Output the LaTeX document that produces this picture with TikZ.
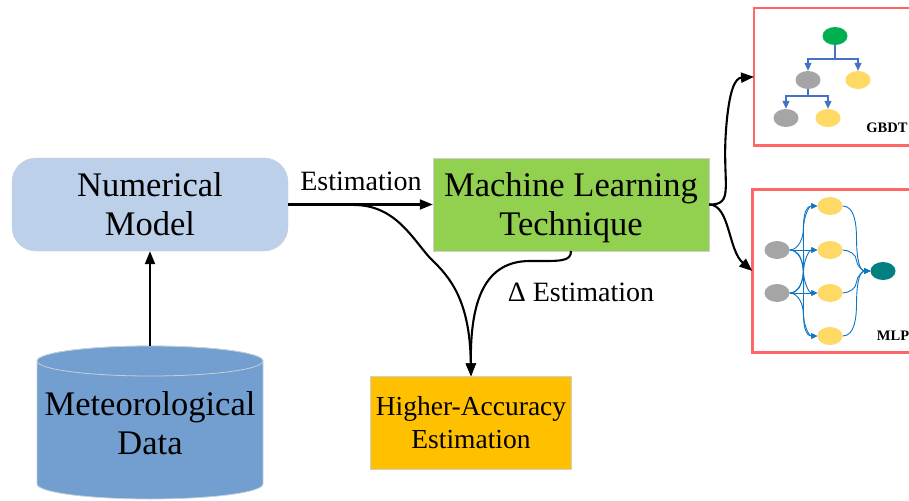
\documentclass[tikz,border=0pt]{standalone}
\usepackage{fontspec}
\setmainfont{Liberation Serif}
\usetikzlibrary{arrows.meta,shapes.geometric,calc}
\definecolor{numfill}{HTML}{BCD0E9}
\definecolor{numline}{HTML}{C6CFDB}
\definecolor{mlfill}{HTML}{92D050}
\definecolor{boxline}{HTML}{CFCFCF}
\definecolor{hafill}{HTML}{FFC000}
\definecolor{cylfill}{HTML}{729FCF}
\definecolor{cylline}{HTML}{C4CFDC}
\definecolor{panel}{HTML}{FF6666}
\definecolor{gn}{HTML}{00B050}
\definecolor{gy}{HTML}{A5A5A5}
\definecolor{yl}{HTML}{FFD966}
\definecolor{tl}{HTML}{008080}
\definecolor{treeblue}{HTML}{4472C4}
\definecolor{netblue}{HTML}{0F75C4}
\tikzset{
 flow/.style={black,line width=2.1pt,-{Triangle[length=13pt,width=10pt]}},
 panelbox/.style={draw=panel,line width=2.7pt,fill=white,minimum width=160pt,anchor=north west,inner sep=0pt,outer sep=0pt},
 dot/.style={ellipse,minimum width=25pt,minimum height=18pt,inner sep=0pt},
 gdot/.style={dot,fill=gy},
 ydot/.style={dot,fill=yl},
 treeline/.style={treeblue,line width=1.2pt},
 tree/.style={treeline,-{Triangle[length=8pt,width=7pt]}},
 net/.style={netblue,line width=0.9pt,-{Triangle[length=6pt,width=5.5pt]}},
 big/.style={font=\fontsize{34.5}{39}\selectfont,align=center},
 mid/.style={font=\fontsize{27.5}{33}\selectfont,align=center},
 lab/.style={font=\fontsize{28}{32}\selectfont},
 tag/.style={font=\fontsize{14.5}{16}\selectfont\bfseries},
}
\begin{document}
\begin{tikzpicture}[x=1pt,y=-1pt]
\useasboundingbox (0,0) rectangle (909,500);
\clip (0,0) rectangle (909,500);
% cylinder
\path[fill=cylfill,draw=cylline,line width=0.8pt] (37,361) arc[start angle=180,end angle=360,x radius=113,y radius=15] -- (263,484) arc[start angle=0,end angle=180,x radius=113,y radius=15] -- cycle;
\path[fill=cylfill,draw=cylline,line width=0.8pt] (150,361) ellipse[x radius=113,y radius=15];
\coordinate (cyltop) at (150,346);
\node[big,inner sep=0pt] (met) at (150,423) {Meteorological\\Data};
% main boxes
\node[draw=numline,fill=numfill,rounded corners=24pt,minimum width=276pt,minimum height=93pt,inner sep=0pt,big] (num) at (150,204.5) {Numerical\\Model};
\node[draw=boxline,fill=mlfill,minimum width=276pt,minimum height=93pt,inner sep=0pt,big] (ml) at (571,204.5) {\rule{0pt}{30pt}Machine Learning\\Technique};
\node[draw=boxline,fill=hafill,minimum width=201pt,minimum height=93pt,inner sep=0pt,mid] (ha) at (471,423) {Higher-Accuracy\\Estimation};
\node[lab,inner sep=0pt] (est) at (361,181) {Estimation};
\node[lab,inner sep=0pt] (dest) at (581,292) {Δ Estimation};
% panels
\node[panelbox,minimum height=137.7pt] (p1) at (754,8) {};
\node[panelbox,minimum height=163.4pt] (p2) at (752.3,189.3) {};
% tree
\node[dot,fill=gn] (t0) at (835,36) {};
\node[gdot] (t1) at (808,80) {};
\node[ydot] (t2) at (858,80) {};
\node[gdot] (t3) at (786,118) {};
\node[ydot] (t4) at (828,118) {};
\node[tag,inner sep=0pt] (gbdt) at (887,128) {GBDT};
\coordinate (t0j) at (835,59);
\coordinate (t1j) at (808,96);
\draw[treeline] (t0) -- (t0j);
\draw[tree] (t0j) -| (t1);
\draw[tree] (t0j) -| (t2);
\draw[treeline] (t1) -- (t1j);
\draw[tree] (t1j) -| (t3);
\draw[tree] (t1j) -| (t4);
% net
\node[gdot] (i1) at (777,250) {};
\node[gdot] (i2) at (777,293) {};
\node[ydot] (h1) at (830,206) {};
\node[ydot] (h2) at (830,250) {};
\node[ydot] (h3) at (830,293) {};
\node[ydot] (h4) at (830,336) {};
\node[dot,fill=tl] (o) at (883,271) {};
\node[tag,inner sep=0pt] (mlp) at (893,336) {MLP};
% S-shaped connectors: a / b / direction at the midpoint (90 = going up)
\foreach \a/\b/\d in {i1/h1/90,i1/h3/-90,i1/h4/-90,i2/h1/90,i2/h2/90,i2/h4/-90}{
  \coordinate (m) at ($(\a.east)!.5!(\b.west)$);
  \draw[net] (\a.east) to[out=0,in=\d+180,looseness=0.9] (m) to[out=\d,in=180,looseness=0.9] (\b.west);
}
\draw[net] (i1.east) -- (h2.west);
\draw[net] (i2.east) -- (h3.west);
\foreach \a/\d in {h1/-90,h2/-90,h3/90,h4/90}{
  \coordinate (m) at ($(\a.east)!.5!(o.west)$);
  \draw[net] (\a.east) to[out=0,in=\d+180,looseness=0.9] (m) to[out=\d,in=180,looseness=0.9] (o.west);
}
% flows
\draw[flow] (cyltop) -- (num);
\draw[flow] (num) -- (ml);
\coordinate (split) at (354,205);
\coordinate (mid1) at (430,258);
\draw[flow] (split) .. controls (395,205) and (412,238) .. (mid1) .. controls (450,277) and (470,300) .. (ha.north);
\coordinate (mlout) at (571,251);
\draw[flow] (mlout) .. controls (571,262) and (560,261) .. (530,261) .. controls (485,261) and (470,300) .. (ha.north);
\draw[flow] (ml.east) .. controls (735,205) and (722,185) .. (726,130) .. controls (729,90) and (735,78) .. (p1.west);
\draw[flow] (ml.east) .. controls (730,205) and (728,250) .. (p2.west);
\end{tikzpicture}
\end{document}
